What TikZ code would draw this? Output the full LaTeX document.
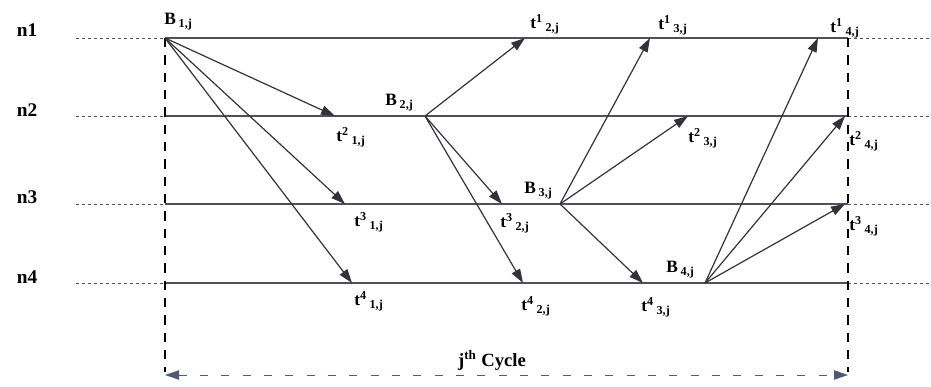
\documentclass[tikz,border=0pt]{standalone}
\usepackage{fontspec}
\setmainfont{Liberation Serif}
\usetikzlibrary{arrows.meta,positioning,calc}
\definecolor{msgGray}  {RGB}{ 50, 50, 58}
\definecolor{rowGray}  {RGB}{ 80, 80, 92}
\definecolor{cycleBlue}{RGB}{ 80, 90,120}

\newcommand{\tlab}[2]{\textbf{t\textsuperscript{#1}\,\textsubscript{#2}}}
\newcommand{\blab}[1]{\textbf{B\,\textsubscript{#1}}}

\begin{document}
\begin{tikzpicture}[x=0.75pt,y=-0.75pt,
    msg/.style={-{Triangle[length=10.5pt,width=7pt]},line width=0.9pt,msgGray},
    lab/.style={anchor=west,inner sep=0pt,font=\fontsize{13}{15}\selectfont}]
  \useasboundingbox (0,0) rectangle (931,386);
  % rows of the four nodes
  \foreach \k/\y/\ly in {1/38/30,2/116/110,3/204/197,4/283/277}{
    \coordinate (D\k) at (76,\y);
    \coordinate (L\k) at (165,\y);
    \coordinate (R\k) at (848,\y);
    \coordinate (E\k) at (931,\y);
    \node[font=\fontsize{14.5}{16}\selectfont\bfseries] (n\k) at (27,\ly) {n\k};
    \draw[rowGray, line width=0.7pt, dash pattern=on 2pt off 2.5pt] (D\k) -- (L\k);
    \draw[rowGray, line width=0.7pt, dash pattern=on 2pt off 2.5pt] (R\k) -- (E\k);
    \draw[rowGray, line width=0.8pt] (L\k) -- (R\k);
  }
  % cycle borders
  \coordinate (C1) at (165,375);
  \coordinate (C2) at (848,375);
  \draw[black, line width=0.9pt, dash pattern=on 7pt off 6pt] (L1) -- (165,372);
  \draw[black, line width=0.9pt, dash pattern=on 7pt off 6pt] (R1) -- (848,372);
  \draw[{Triangle[length=10.5pt,width=7pt]}-{Triangle[length=10.5pt,width=7pt]},
        cycleBlue, line width=0.7pt, dash pattern=on 6pt off 10pt] (C1) -- (C2);
  \node[font=\fontsize{14}{16}\selectfont\bfseries] (cyc) at (492,360) {j\textsuperscript{th} Cycle};
  % broadcast points
  \coordinate (B1) at (165,38);
  \coordinate (B2) at (425,116);
  \coordinate (B3) at (560,204);
  \coordinate (B4) at (705,283);
  \node[lab] at (164,22)  {\blab{1,j}};
  \node[lab] at (385,103) {\blab{2,j}};
  \node[lab] at (524,191) {\blab{3,j}};
  \node[lab] at (666,270) {\blab{4,j}};
  % reception points
  \foreach \n/\x/\y in {21/335/116, 31/345/204, 41/352/283,
                        12/525/38,  32/502/204, 42/523/283,
                        13/650/38,  23/688/116, 43/643/283,
                        14/818/38,  24/845/116, 34/845/204}
    \coordinate (t\n) at (\x,\y);
  \node[lab] at (336,137) {\tlab{2}{1,j}};
  \node[lab] at (354,222) {\tlab{3}{1,j}};
  \node[lab] at (354,301) {\tlab{4}{1,j}};
  \node[lab] at (530,24)  {\tlab{1}{2,j}};
  \node[lab] at (500,223) {\tlab{3}{2,j}};
  \node[lab] at (521,306) {\tlab{4}{2,j}};
  \node[lab] at (658,25)  {\tlab{1}{3,j}};
  \node[lab] at (688,138) {\tlab{2}{3,j}};
  \node[lab] at (641,307) {\tlab{4}{3,j}};
  \node[lab] at (830,28)  {\tlab{1}{4,j}};
  \node[lab] at (849,141) {\tlab{2}{4,j}};
  \node[lab] at (849,226) {\tlab{3}{4,j}};
  % messages
  \foreach \s/\r in {1/21,1/31,1/41, 2/12,2/32,2/42, 3/13,3/23,3/43, 4/14,4/24,4/34}
    \draw[msg] (B\s) -- (t\r);
\end{tikzpicture}
\end{document}
